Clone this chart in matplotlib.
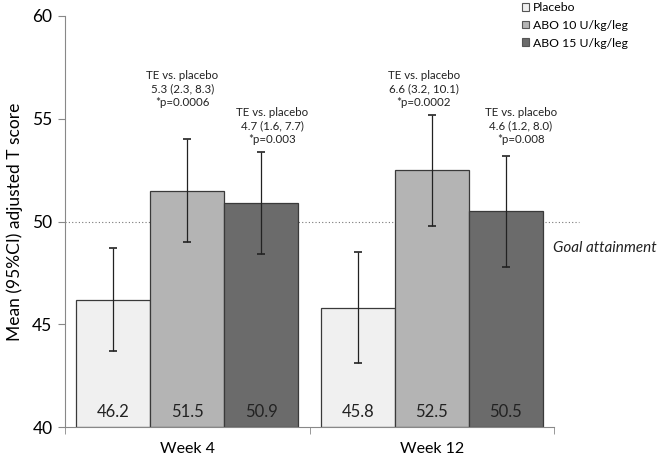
import numpy as np
import matplotlib
matplotlib.use("Agg")
from matplotlib import pyplot as plt
from matplotlib.patches import Patch

plt.rcParams['font.family'] = ['Lato', 'DejaVu Sans']

weeks = ["Week 4", "Week 12"]
groups = ["Placebo", "ABO 10 U/kg/leg", "ABO 15 U/kg/leg"]
colors = ["#f0f0f0", "#b4b4b4", "#6b6b6b"]

means = {
    "Placebo": [46.2, 45.8],
    "ABO 10 U/kg/leg": [51.5, 52.5],
    "ABO 15 U/kg/leg": [50.9, 50.5],
}
ci_half = {
    "Placebo": [2.5, 2.7],
    "ABO 10 U/kg/leg": [2.5, 2.7],
    "ABO 15 U/kg/leg": [2.5, 2.7],
}
te_text = {
    "ABO 10 U/kg/leg": ["TE vs. placebo\n5.3 (2.3, 8.3)\n*p=0.0006",
                        "TE vs. placebo\n6.6 (3.2, 10.1)\n*p=0.0002"],
    "ABO 15 U/kg/leg": ["TE vs. placebo\n4.7 (1.6, 7.7)\n*p=0.003",
                        "TE vs. placebo\n4.6 (1.2, 8.0)\n*p=0.008"],
}
goal = 50

fig = plt.figure(figsize=(6.6, 4.57), dpi=100)
ax = fig.add_axes([65 / 660, 30 / 457, 489 / 660, 411 / 457])

x = np.arange(len(weeks))
width = 0.302
for i, g in enumerate(groups):
    pos = x + (i - 1) * width
    ax.bar(pos, np.array(means[g]) - 40, width, bottom=40, color=colors[i],
           edgecolor="#3a3a3a", linewidth=0.9, zorder=2)
    ax.errorbar(pos, means[g], yerr=ci_half[g], fmt="none", ecolor="#222222",
                elinewidth=0.9, capsize=3, capthick=1.2, zorder=3)
    for p, v in zip(pos, means[g]):
        ax.text(p, 40.74, f"{v:.1f}", ha="center", va="center", fontsize=12,
                color="#222222", zorder=4)

# treatment effect annotations
offsets = {"ABO 10 U/kg/leg": [-0.02, -0.033], "ABO 15 U/kg/leg": [0.045, 0.062]}
ymid = {"ABO 10 U/kg/leg": 56.45, "ABO 15 U/kg/leg": 54.65}
for i, g in enumerate(groups):
    if g not in te_text:
        continue
    for k in range(len(weeks)):
        ax.text(x[k] + (i - 1) * width + offsets[g][k], ymid[g], te_text[g][k],
                ha="center", va="center", fontsize=8.3, linespacing=1.3,
                color="#222222")

ax.plot([-0.5, 1.602], [goal, goal], linestyle=(0, (1, 2)), color="#777777",
        linewidth=0.8, clip_on=False, zorder=1)
ax.text(1.496, 48.71, "Goal attainment", ha="left", va="center", fontsize=11,
        style="italic", color="#222222")

ax.set_xlim(-0.5, 1.5)
ax.set_ylim(40, 60)
ax.set_yticks([40, 45, 50, 55, 60])
ax.set_xticks(x)
ax.set_xticklabels(weeks, fontsize=11.5)
ax.set_xticks([-0.5, 0.5, 1.5], minor=True)
ax.tick_params(axis="x", which="major", length=0, pad=11)
ax.tick_params(axis="x", which="minor", length=5, color="#888888")
ax.tick_params(axis="y", length=5, color="#888888", labelsize=12.5, pad=4)
for s in ["top", "right"]:
    ax.spines[s].set_visible(False)
for s in ["left", "bottom"]:
    ax.spines[s].set_color("#888888")
ax.set_ylabel("Mean (95%CI) adjusted T score", fontsize=12.5, labelpad=7)

handles = [Patch(facecolor=c, edgecolor="#555555", linewidth=0.8) for c in colors]
fig.legend(handles, groups, loc="upper left", bbox_to_anchor=(517 / 660, 1.006),
           frameon=False, fontsize=8.8, handlelength=0.6, handleheight=0.6,
           handletextpad=0.3, labelspacing=0.55, borderaxespad=0)

fig.savefig("out.png", dpi=100)
